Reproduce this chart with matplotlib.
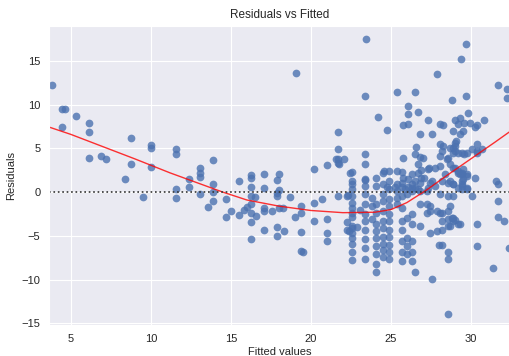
#!/usr/bin/env python3

"""
Residuals vs fitted plot (seaborn darkgrid look).
"""

import matplotlib
matplotlib.use("Agg")
import matplotlib.pyplot as plt
import seaborn as sns

# fitted values, residuals
fitted = [
    3.8, 4.45, 4.6, 4.45, 5.3, 6.1, 6.1, 6.1, 6.9, 7.2, 8.75, 8.75, 8.4, 10.0, 10.0, 10.0, 9.5,
    11.6, 11.6, 19.1, 13.9, 13.1, 13.1, 13.1, 12.4, 11.6, 12.4, 13.9, 15.5, 16.25, 16.25, 16.25,
    17.1, 17.1, 18.0, 17.9, 18.0, 20.2, 21.0, 21.7, 21.7, 21.7, 21.7,
    11.6, 13.1, 13.9, 13.9, 13.6, 14.7, 14.7, 15.0, 15.5, 15.8, 16.25, 16.5, 16.25, 16.0, 16.25,
    16.25, 16.25, 16.6, 17.1, 17.1, 17.1, 17.6, 17.9, 17.9, 18.0, 18.25, 17.9, 17.9, 18.3, 18.7,
    19.0, 19.4, 19.4, 19.4, 19.4, 19.5, 20.2, 20.2, 20.7, 21.0, 21.0, 21.0, 21.7,
    22.3, 22.55, 22.55, 22.55, 22.55, 22.25, 22.55, 22.4, 22.9, 22.55, 22.55, 22.55, 22.55, 23.1,
    21.6, 21.75, 22.1, 22.55, 22.55, 22.55, 23.4, 23.4, 23.4, 23.4, 23.45,
    22.55, 22.55, 22.55, 22.55, 22.25, 22.25,
    23.4, 23.4, 23.4, 23.4, 23.4, 23.4, 23.4, 23.4, 23.4, 23.4,
    29.7, 29.4, 27.9, 25.4, 26.5, 29.7, 31.7, 32.25, 32.25, 28.8, 26.1, 26.1, 26.7, 24.2, 24.75,
    25.75, 26.1, 27.3, 26.8, 28.05, 28.25, 27.6, 29.0, 29.3, 29.2, 29.6, 29.8, 29.95, 30.25, 30.4,
    30.8, 28.9, 29.3, 29.5, 29.1, 29.0, 28.9, 28.9, 28.05, 28.2, 28.05, 26.6, 26.5, 26.7, 25.75,
    24.6, 24.9, 25.4, 25.7, 25.75, 26.1, 26.7, 26.9, 27.4, 27.75, 28.05, 28.6, 29.45, 29.75, 30.4,
    30.7, 28.7, 29.0, 29.2, 29.45, 29.5, 29.45, 30.25, 31.6, 31.7, 24.75, 25.25, 25.7, 26.1, 26.5,
    22.45,
    28.25, 28.7, 29.0, 29.0, 29.2, 29.6, 30.1, 30.4, 30.4, 28.5, 28.9, 29.2, 29.5, 29.75, 29.3,
    28.7, 28.9, 29.45, 29.75, 28.4, 28.2,
    26.8, 27.0, 26.9, 27.3, 25.7, 26.5, 27.1, 27.6, 25.9, 26.3, 26.7, 27.3, 27.75,
    24.1, 24.1, 24.1, 24.1, 24.1, 24.1, 24.1, 24.1, 24.1, 24.1, 24.1,
    23.8, 23.8, 23.8,
    24.5, 24.5, 24.5, 24.5, 24.5, 24.5, 24.5, 24.5, 24.5, 24.5, 24.5,
    24.9, 24.9, 24.9, 24.9, 24.9, 24.9, 24.9, 24.9, 24.9, 24.9, 24.9,
    25.4, 25.4, 25.4, 25.4,
    25.7, 25.7, 25.7, 25.7, 25.7, 25.7, 25.7,
    26.0, 26.0, 26.0, 26.0, 26.0,
    26.3, 26.3, 26.3, 26.3, 26.3, 26.3, 26.3, 26.3,
    26.5, 26.8, 26.8, 26.8, 26.8, 27.25, 27.25, 27.25, 27.45, 27.45, 27.45, 27.45, 27.6,
    27.9, 27.9, 28.0, 28.05, 28.05,
    28.6, 28.6, 28.6, 28.6, 28.6, 28.6, 28.6, 28.6,
    28.9, 28.9, 28.9, 28.9, 29.2, 29.2, 29.45, 29.45, 29.45, 29.75, 29.75, 30.1, 30.4, 30.4,
    31.4, 31.7, 31.7, 32.1, 32.4,
    28.7, 28.8, 29.0, 29.3, 28.7, 28.2, 28.2, 28.2, 28.2,
]
resid = [
    12.3, 9.5, 9.5, 7.5, 8.7, 7.9, 6.9, 3.9, 4.1, 3.8, 6.2, 3.2, 1.5, 5.4, 5.0, 2.9, -0.6,
    4.9, 4.4, 13.6, 3.7, 2.8, 2.2, 1.7, 1.5, 0.4, 0.6, 0.9, 1.3, 2.0, 1.6, 0.6,
    2.1, 0.5, 2.1, 1.4, 0.2, 2.6, 3.1, 6.9, 4.9, 3.8, 3.3,
    -0.7, -0.2, 0.0, -1.0, -1.7, -0.8, -2.9, -2.2, -2.6, -2.0, -0.5, -0.6, -1.4, -1.7, -2.4,
    -3.4, -5.4, -2.7, -1.8, -2.2, -4.3, -2.2, -0.1, -0.5, -1.8, -1.8, -4.0, -5.0, -4.5, -0.6,
    -2.9, -1.6, -2.4, -4.6, -6.7, -6.8, -1.2, -3.3, -0.8, -3.1, -4.7, -5.6, -0.5,
    -0.35, -1.3, -1.8, -2.4, -2.9, -3.4, -4.1, -4.5, -4.0, -5.3, -5.9, -6.8, -7.8, -2.1,
    3.8, 3.2, 3.8, 2.3, 1.3, 0.9, 11.0, 4.4, 3.2, 1.4, 17.5,
    0.3, -0.5, -3.9, -4.7, -0.5, -4.3,
    1.5, 0.7, -0.2, -1.4, -2.5, -3.3, -4.3, -5.4, -6.4, -7.6,
    16.9, 15.2, 13.5, 11.5, 11.4, 11.0, 12.2, 11.8, 10.8, 10.5, 9.9, 8.9, 9.2, 8.6, 7.1,
    7.7, 7.8, 8.3, 6.6, 7.8, 7.7, 6.6, 8.2, 8.5, 7.8, 7.9, 9.1, 7.9, 7.5, 7.7,
    8.3, 7.0, 6.7, 7.0, 5.9, 5.3, 5.1, 4.5, 5.5, 4.7, 4.1, 5.2, 4.4, 3.2, 3.9,
    2.4, 2.4, 2.4, 2.3, 1.6, 1.5, 2.2, 1.6, 2.8, 2.8, 3.0, 3.9, 4.5, 4.5, 4.7,
    4.9, 3.2, 2.8, 2.2, 2.1, 1.5, 0.9, 1.6, 1.3, 0.9, 0.6, 0.6, 0.6, 0.6, 0.5,
    2.2,
    5.3, 5.1, 5.6, 4.7, 4.5, 4.4, 4.9, 5.5, 4.5, 3.8, 2.8, 2.4, 2.6, 2.1, 2.1,
    1.3, 0.9, 0.7, 0.3, 2.1, 1.3,
    4.0, 3.9, 2.5, 2.6, 1.1, 1.3, 1.6, 1.3, 0.35, 0.5, 0.35, 0.5, 0.7,
    1.6, 0.7, -1.4, -2.4, -3.6, -4.5, -5.3, -6.2, -7.1, -8.2, -9.1,
    -0.7, -1.6, -3.1,
    2.2, 0.9, -0.2, -1.0, -2.2, -3.3, -4.1, -5.1, -5.9, -6.6, -7.4,
    1.3, 0.3, -0.8, -1.6, -2.5, -3.3, -4.3, -5.1, -6.0, -6.8, -7.6,
    0.9, 0.1, -0.7, -1.4,
    -0.5, -1.8, -3.3, -4.3, -5.6, -6.8, -7.9,
    -0.2, -3.0, -5.3, -6.2, -7.1,
    2.1, 0.9, 0.1, -2.5, -3.7, -5.6, -6.8, -7.9,
    -9.1, 1.0, 0.1, -1.4, -3.9, 0.1, -1.4, -2.4, 1.0, -1.6, -2.2, -4.7, -9.9,
    -2.2, -4.5, -6.0, -0.2, -2.4,
    1.0, -0.5, -2.2, -3.1, -3.9, -6.8, -7.7, -13.9,
    0.9, -0.5, -3.0, -3.3, 0.5, -3.6, 2.2, 1.3, 0.3, 1.9, 0.5, -0.5, -3.7, -6.2,
    -8.7, -1.0, -2.8, -3.3, -6.4,
    -1.6, -3.0, -3.2, -3.6, -3.9, -2.4, -3.3, -4.3, -6.0,
]

# lowess curve
smooth_x = [3.7, 5.0, 7.0, 9.0, 11.2, 13.0, 14.5, 16.0, 18.0, 20.0, 22.0, 24.0,
            25.0, 26.0, 27.2, 28.5, 30.0, 31.5, 32.5]
smooth_y = [7.4, 6.6, 5.2, 3.8, 2.2, 1.0, 0.0, -0.9, -1.6, -2.1, -2.35, -2.3,
            -2.0, -1.2, 0.2, 1.9, 3.8, 5.7, 7.0]

sns.set_style("darkgrid")
plt.rcParams["font.family"] = ["Liberation Sans", "DejaVu Sans"]

fig = plt.figure(figsize=(5.1, 3.56), dpi=100)
ax = fig.add_axes([0.097, 0.087, 0.903, 0.840])

ax.scatter(fitted, resid, s=31, color="#4C72B0", alpha=0.8, linewidths=0)
ax.plot(smooth_x, smooth_y, color="red", lw=1, alpha=0.8)
ax.axhline(0, ls=":", c=".2", lw=1.2)

ax.set_xlim(3.66, 32.45)
ax.set_ylim(-15.2, 19.0)
ax.set_xticks([5, 10, 15, 20, 25, 30])
ax.set_yticks([-15, -10, -5, 0, 5, 10, 15])
ax.tick_params(labelsize=8, colors=".15", pad=3)

ax.set_title("Residuals vs Fitted", fontsize=8.5, color=".15", pad=6)
ax.set_xlabel("Fitted values", fontsize=8, color=".15", labelpad=2)
ax.set_ylabel("Residuals", fontsize=8, color=".15", labelpad=4)

fig.savefig("out.png", dpi=100)
plt.close(fig)
